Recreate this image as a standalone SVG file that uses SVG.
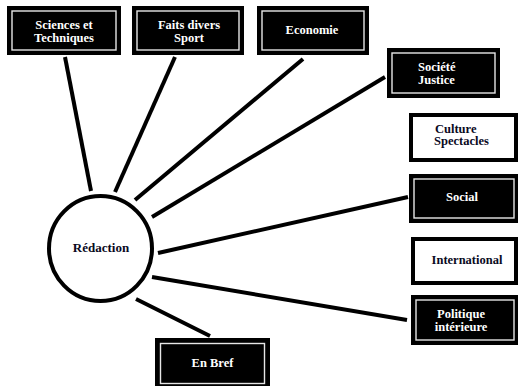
<svg xmlns="http://www.w3.org/2000/svg" width="519" height="386" viewBox="0 0 519 386">
<style>
.ob{fill:#000}
.il{fill:none;stroke:#e6e6e6;stroke-width:1.4}
.wb{fill:#fff;stroke:#000;stroke-width:4}
.t{font-family:"Liberation Serif","Times New Roman",serif;font-weight:bold;font-size:12.5px}
.w{fill:#fff}
.k{fill:#0a0a1e}
.c line{stroke:#000;stroke-width:4}
</style>
<rect width="519" height="386" fill="#fff"/>
<g class="c" id="connectors">
<line x1="65" y1="57" x2="91" y2="191"/>
<line x1="175" y1="57" x2="115" y2="192"/>
<line x1="303" y1="59" x2="135" y2="200"/>
<line x1="385" y1="77" x2="152" y2="217"/>
<line x1="408" y1="197" x2="158" y2="253"/>
<line x1="407" y1="320" x2="152" y2="277"/>
<line x1="210" y1="336" x2="136" y2="299"/>
</g>
<g id="redaction">
<ellipse cx="100.5" cy="248.5" rx="51.5" ry="52.5" fill="#fff" stroke="#000" stroke-width="4"/>
<text class="t k" x="101" y="252" text-anchor="middle" style="font-size:13px">Rédaction</text>
</g>
<g id="sciences">
<rect class="ob" x="7" y="6" width="114" height="49"/>
<rect class="il" x="12" y="11" width="104" height="39"/>
<text class="t w" x="64" y="29" text-anchor="middle">Sciences et</text>
<text class="t w" x="64" y="41.5" text-anchor="middle">Techniques</text>
</g>
<g id="faits">
<rect class="ob" x="132" y="6" width="112" height="49"/>
<rect class="il" x="137" y="11" width="102" height="39"/>
<text class="t w" x="189" y="29" text-anchor="middle">Faits divers</text>
<text class="t w" x="189" y="41.5" text-anchor="middle">Sport</text>
</g>
<g id="economie">
<rect class="ob" x="257" y="6" width="112" height="49"/>
<rect class="il" x="262" y="11" width="102" height="39"/>
<text class="t w" x="312" y="33.5" text-anchor="middle">Economie</text>
</g>
<g id="societe">
<rect class="ob" x="387" y="48" width="113" height="50"/>
<rect class="il" x="392" y="53" width="103" height="40"/>
<text class="t w" x="418" y="71">Société</text>
<text class="t w" x="418" y="83.5">Justice</text>
</g>
<g id="culture">
<rect class="wb" x="411" y="115" width="105" height="45"/>
<text class="t k" x="435" y="132.5">Culture</text>
<text class="t k" x="434" y="145">Spectacles</text>
</g>
<g id="social">
<rect class="ob" x="409" y="174" width="109" height="49"/>
<rect class="il" x="414" y="179" width="100" height="39"/>
<text class="t w" x="462" y="200.5" text-anchor="middle">Social</text>
</g>
<g id="international">
<rect class="wb" x="413" y="239" width="103" height="44"/>
<text class="t k" x="467" y="264" text-anchor="middle">International</text>
</g>
<g id="politique">
<rect class="ob" x="411" y="295" width="107" height="50"/>
<rect class="il" x="416" y="300" width="98" height="40"/>
<text class="t w" x="461" y="318" text-anchor="middle">Politique</text>
<text class="t w" x="461" y="330.5" text-anchor="middle">intérieure</text>
</g>
<g id="enbref">
<rect class="ob" x="155" y="338" width="115" height="48"/>
<rect class="il" x="160.5" y="343.5" width="104" height="40"/>
<text class="t w" x="212.5" y="367" text-anchor="middle">En Bref</text>
</g>
</svg>
